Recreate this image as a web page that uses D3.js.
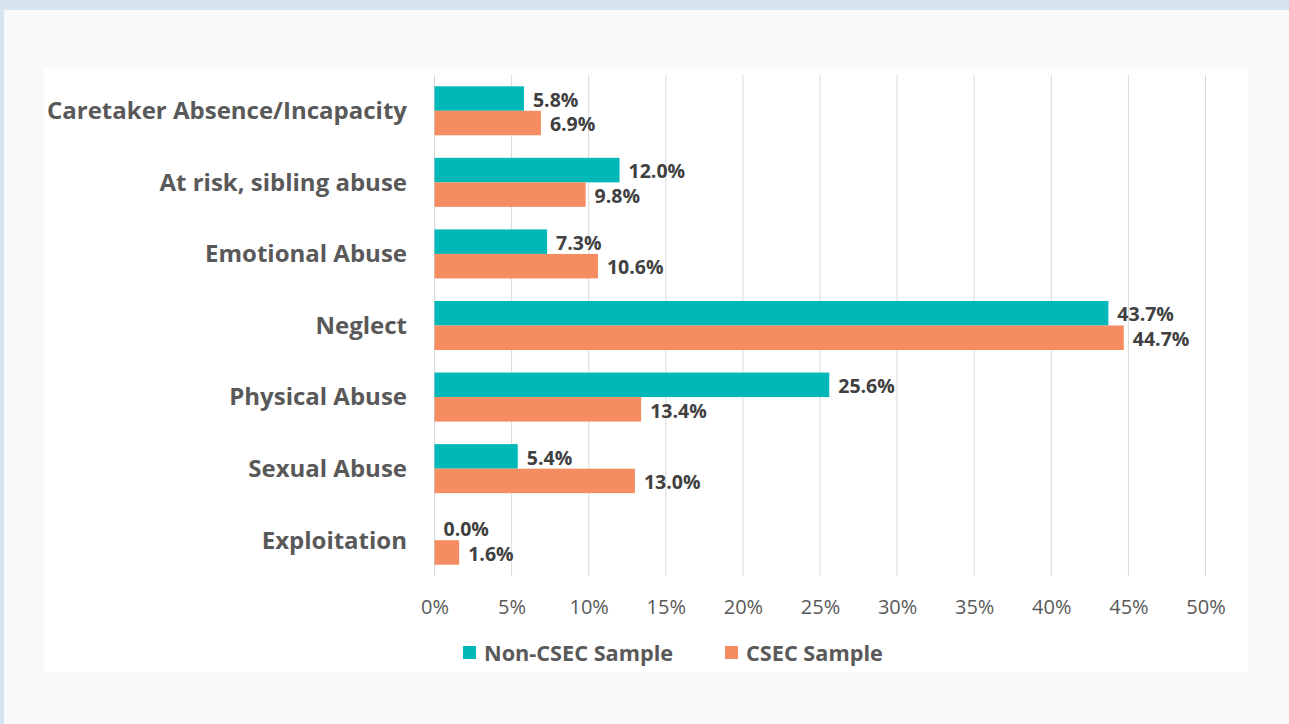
<!DOCTYPE html>
<html>
<head>
<meta charset="utf-8">
<script src="https://cdn.jsdelivr.net/npm/d3@7"></script>
<style>
  html, body { margin: 0; padding: 0; background: #d5e4ee; }
  svg { display: block; }
</style>
</head>
<body>
<svg id="chart" width="1289" height="724"></svg>
<script>
// Allegation categories, top to bottom
const categories = [
  "Caretaker Absence/Incapacity",
  "At risk, sibling abuse",
  "Emotional Abuse",
  "Neglect",
  "Physical Abuse",
  "Sexual Abuse",
  "Exploitation"
];
// Percent of each sample
const nonCsecValues = [5.8, 12.0, 7.3, 43.7, 25.6, 5.4, 0.0];
const csecValues = [6.9, 9.8, 10.6, 44.7, 13.4, 13.0, 1.6];
const seriesNames = ["Non-CSEC Sample", "CSEC Sample"];
const tickValues = [0, 5, 10, 15, 20, 25, 30, 35, 40, 45, 50];

const colors = ["#00b8b8", "#f68c62"];
const font = "'Open Sans', 'Noto Sans', sans-serif";

const svg = d3.select("#chart");

// Page panels
svg.append("rect").attr("x", 0).attr("y", 0).attr("width", 1289).attr("height", 724).attr("fill", "#d5e4ee");
svg.append("rect").attr("x", 4).attr("y", 10).attr("width", 1285).attr("height", 714).attr("fill", "#f9f9f9");
svg.append("rect").attr("x", 44).attr("y", 69).attr("width", 1204).attr("height", 603).attr("fill", "#ffffff");

const x = d3.scaleLinear().domain([0, 50]).range([434.5, 1205.5]);
const y = d3.scaleBand().domain(categories).range([75, 576]).paddingInner(0.315).paddingOuter(0.1575);
const sub = d3.scaleBand().domain(seriesNames).range([0, y.bandwidth()]);

// Vertical gridlines
svg.append("g")
  .selectAll("line")
  .data(tickValues)
  .join("line")
  .attr("x1", d => x(d)).attr("x2", d => x(d))
  .attr("y1", 75).attr("y2", 576)
  .attr("stroke", "#d9d9d9").attr("stroke-width", 1);

// Tick labels via axis
const axis = svg.append("g")
  .attr("transform", "translate(0,576)")
  .call(d3.axisBottom(x).tickValues(tickValues).tickFormat(d => d + "%").tickSize(0).tickPadding(24));
axis.select(".domain").remove();
axis.selectAll("text")
  .attr("font-family", font).attr("font-size", 20).attr("fill", "#595959");

// Category labels
svg.append("g")
  .selectAll("text")
  .data(categories)
  .join("text")
  .attr("x", 407)
  .attr("y", d => y(d) + y.bandwidth() / 2)
  .attr("dy", "0.35em")
  .attr("text-anchor", "end")
  .attr("font-family", font).attr("font-size", 24).attr("font-weight", 700)
  .attr("fill", "#595959")
  .text(d => d);

const series = [nonCsecValues, csecValues];
series.forEach((vals, si) => {
  const rows = categories.map((c, i) => ({ c, v: vals[i] }));
  const g = svg.append("g");
  g.selectAll("rect")
    .data(rows)
    .join("rect")
    .attr("x", x(0))
    .attr("y", d => y(d.c) + sub(seriesNames[si]))
    .attr("width", d => x(d.v) - x(0))
    .attr("height", sub.bandwidth())
    .attr("fill", colors[si]);
  g.selectAll("text")
    .data(rows)
    .join("text")
    .attr("x", d => x(d.v) + 9)
    .attr("y", d => y(d.c) + sub(seriesNames[si]) + sub.bandwidth() / 2)
    .attr("dy", "0.42em")
    .attr("font-family", font).attr("font-size", 19.5).attr("font-weight", 700)
    .attr("fill", "#404040")
    .text(d => d.v.toFixed(1) + "%");
});

// Legend
const legend = svg.append("g");
const legendX = [463, 725];
seriesNames.forEach((name, i) => {
  legend.append("rect")
    .attr("x", legendX[i]).attr("y", 646)
    .attr("width", 13).attr("height", 13)
    .attr("fill", colors[i]);
  legend.append("text")
    .attr("x", legendX[i] + 21).attr("y", 653)
    .attr("dy", "0.35em")
    .attr("font-family", font).attr("font-size", 21.7).attr("font-weight", 700)
    .attr("fill", "#595959")
    .text(name);
});
</script>
</body>
</html>
